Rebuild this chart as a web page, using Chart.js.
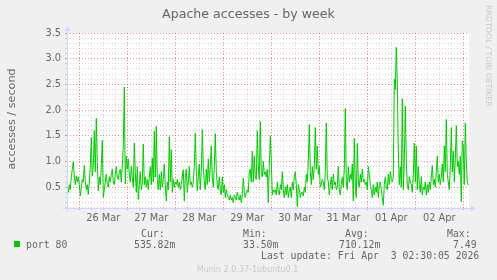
<!DOCTYPE html>
<html><head><meta charset="utf-8">
<script src="https://cdn.jsdelivr.net/npm/chart.js@4/dist/chart.umd.min.js"></script>
<style>html,body{margin:0;padding:0;background:#f0f0f0;overflow:hidden}canvas{display:block}</style>
</head><body>
<canvas id="c" width="497" height="280"></canvas>
<script>
const chartTitle = 'Apache accesses - by week';
const yAxisTitle = 'accesses / second';
const dayLabels = ['26 Mar','27 Mar','28 Mar','29 Mar','30 Mar','31 Mar','01 Apr','02 Apr'];
const yTickLabels = ['0.5','1.0','1.5','2.0','2.5','3.0','3.5'];
const seriesName = 'port 80';
const startHour = -6;      // hours relative to 26 Mar 00:00
const stepHours = 0.5;     // 30 minute samples
const accesses = [
0.52,0.4,0.55,0.45,0.7,0.85,1.0,0.7,0.55,0.72,0.6,0.7,0.55,0.33,0.5,0.65,0.6,0.92,0.6,0.45,
0.55,0.36,0.6,0.9,1.47,0.72,0.9,1.6,0.8,1.84,1.0,0.43,0.7,0.55,0.9,1.41,0.3,0.45,0.6,0.75,
0.55,0.5,0.7,0.6,0.75,0.85,0.6,0.55,0.75,0.9,0.7,0.65,0.8,0.85,0.6,0.9,1.3,2.45,0.56,1.1,
0.85,1.05,0.75,0.6,0.9,0.7,0.5,1.36,0.8,0.4,0.9,0.26,0.55,0.8,0.45,0.6,1.34,0.55,0.7,0.5,
0.65,0.45,0.7,0.9,0.55,1.07,0.6,1.59,0.7,1.68,0.65,0.45,0.75,0.45,0.8,0.5,0.65,0.95,0.55,0.23,
0.6,0.45,1.48,0.6,1.23,0.4,0.65,0.5,0.6,0.55,0.65,0.5,0.6,0.45,0.55,0.7,0.84,0.23,0.7,0.85,
0.4,0.6,0.9,0.55,0.6,0.5,0.6,0.9,1.55,0.8,0.43,0.7,0.95,0.45,0.8,1.62,0.9,0.6,0.45,0.85,
0.55,1.05,0.6,0.9,1.3,0.7,0.5,0.9,1.54,0.8,0.55,0.45,0.7,0.45,0.35,0.7,0.4,0.55,0.3,0.45,
0.35,0.3,0.25,0.35,0.25,0.3,0.2,0.35,0.3,0.25,0.4,0.3,0.25,0.35,0.2,0.35,0.68,0.4,0.3,0.4,
0.45,0.4,0.8,0.85,0.6,1.2,0.6,1.1,0.7,0.65,1.6,0.9,0.65,1.78,0.75,0.7,1.0,0.75,0.8,0.7,
0.85,0.2,0.9,1.5,1.0,0.35,0.45,0.4,0.45,0.35,0.6,0.4,0.35,0.55,0.45,0.8,0.45,0.3,0.5,0.35,
0.55,0.3,0.45,0.5,0.3,0.6,0.45,0.7,0.8,0.55,0.12,0.55,0.45,0.3,0.4,0.4,0.33,0.5,0.4,0.75,
0.6,1.0,1.72,0.8,0.55,0.9,0.65,0.9,1.66,0.85,1.3,0.75,0.9,0.5,0.55,0.65,0.6,0.45,0.8,1.75,
0.7,0.6,0.35,0.55,0.7,0.45,0.75,0.55,0.6,0.45,0.5,0.9,0.45,0.35,0.55,0.7,0.5,0.85,2.03,0.6,
0.45,0.9,0.6,0.75,0.65,0.95,0.23,1.45,0.5,0.3,1.35,0.6,0.5,0.75,0.6,0.85,0.6,0.65,0.55,0.6,
0.45,0.9,0.75,0.55,0.45,0.3,0.55,0.35,0.5,0.4,0.6,0.3,0.55,0.6,0.45,0.3,0.15,0.55,0.7,0.5,
0.45,0.75,0.55,0.8,0.65,0.6,0.7,2.6,2.4,3.22,2.5,1.2,0.55,0.9,0.5,2.22,0.45,1.0,2.08,1.0,
0.55,0.45,0.7,0.6,0.55,0.4,0.75,1.36,0.6,1.3,0.45,0.9,0.55,0.4,0.7,0.35,0.5,0.45,0.6,0.35,
0.55,0.4,0.6,0.45,0.7,0.92,0.55,0.65,0.5,0.8,1.1,0.6,0.75,0.55,0.7,0.95,0.6,1.3,0.8,1.82,
0.75,0.6,0.45,0.9,1.66,0.8,1.2,0.6,1.05,1.7,0.9,1.0,0.75,1.1,0.22,1.4,1.3,0.55,1.75,1.0,
0.6,0.54];
const statNames = ['Cur:','Min:','Avg:','Max:'];
const statValues = ['535.82m','33.50m','710.12m','7.49'];
const lastUpdate = 'Last update: Fri Apr  3 02:30:05 2026';
const footerText = 'Munin 2.0.37-1ubuntu0.1';
const watermark = 'RRDTOOL / TOBI OETIKER';

const X_MIN = -6.15, X_MAX = 194.85, Y_MIN = 0.095, Y_MAX = 3.5;
const GRID = 'rgba(143,143,143,0.35)', MGRID = 'rgba(230,70,70,0.6)';
const AXIS = '#CFD6F8', FONT = '#666666';
const SANS = '"DejaVu Sans"', MONO = '"DejaVu Sans Mono"';

const points = accesses.map((v, i) => ({x: startHour + i * stepHours, y: v}));

const munin = {
  id: 'munin',
  beforeDraw(chart) {
    const c = chart.ctx, a = chart.chartArea;
    c.save();
    c.fillStyle = '#F0F0F0'; c.fillRect(0, 0, chart.width, chart.height);
    c.fillStyle = '#FFFFFF'; c.fillRect(a.left, a.top, a.right - a.left, a.bottom - a.top);
    c.restore();
  },
  afterDraw(chart) {
    const c = chart.ctx, a = chart.chartArea;
    const x0 = a.left, y0 = a.bottom, x1 = a.right, yt = a.top;
    c.save();
    c.setLineDash([]);
    c.strokeStyle = AXIS; c.fillStyle = AXIS; c.lineWidth = 1;
    c.beginPath();
    c.moveTo(x0 - 4, y0 + 0.5); c.lineTo(x1 + 4, y0 + 0.5);
    c.moveTo(x0 + 0.5, y0 + 4); c.lineTo(x0 + 0.5, yt - 4);
    c.stroke();
    c.beginPath();
    c.moveTo(x1 + 2, y0 - 3 + 0.5); c.lineTo(x1 + 2, y0 + 3 + 0.5); c.lineTo(x1 + 7, y0 + 0.5); c.closePath(); c.fill();
    c.beginPath();
    c.moveTo(x0 - 3 + 0.5, yt - 2); c.lineTo(x0 + 3 + 0.5, yt - 2); c.lineTo(x0 + 0.5, yt - 7); c.closePath(); c.fill();

    c.fillStyle = FONT;
    c.textBaseline = 'alphabetic';
    c.font = '12.6px ' + SANS; c.textAlign = 'center';
    c.fillText(chartTitle, 248.5, 17.5);

    c.save();
    c.font = '11.2px ' + SANS;
    c.translate(15, 119); c.rotate(-Math.PI / 2);
    c.fillText(yAxisTitle, 0, 0);
    c.restore();

    c.save();
    c.fillStyle = '#c8c8c8';
    c.font = '7.9px ' + SANS; c.textAlign = 'left'; c.textBaseline = 'middle';
    c.translate(488.5, 5); c.rotate(Math.PI / 2);
    c.fillText(watermark, 0, 0);
    c.restore();

    c.font = '9.8px ' + MONO; c.textAlign = 'left'; c.textBaseline = 'alphabetic';
    const nameX = [141, 243, 345, 447], valX = [134, 243, 339, 453];
    statNames.forEach((s, i) => c.fillText(s, nameX[i], 236.5));
    c.fillStyle = '#00CC00'; c.fillRect(14, 241, 6, 6);
    c.fillStyle = FONT;
    c.fillText(seriesName, 26, 248);
    statValues.forEach((s, i) => c.fillText(s, valX[i], 248));
    c.fillText(lastUpdate, 261, 259);

    c.fillStyle = '#c8c8c8';
    c.font = '8px ' + SANS; c.textAlign = 'center';
    c.fillText(footerText, 247.5, 272);
    c.restore();
  }
};

new Chart(document.getElementById('c'), {
  type: 'line',
  data: { datasets: [{ label: seriesName, data: points, borderColor: '#00CC00', borderWidth: 1,
    pointRadius: 0, tension: 0, fill: false }] },
  options: {
    responsive: false, animation: false, devicePixelRatio: 1,
    layout: { padding: { left: 0, top: 33, right: 28, bottom: 52 } },
    plugins: { legend: { display: false }, tooltip: { enabled: false }, title: { display: false } },
    scales: {
      x: {
        type: 'linear', min: X_MIN, max: X_MAX,
        afterBuildTicks: s => { const t = []; for (let h = 0; h <= 192; h += 6) t.push({value: h}); s.ticks = t; },
        afterFit: s => { s.height = 20; },
        ticks: { autoSkip: false, maxRotation: 0, padding: 3, color: FONT,
          font: { family: 'DejaVu Sans', size: 9.8 },
          callback: v => (v % 24 === 12 ? dayLabels[(v - 12) / 24] : '') },
        grid: { color: ctx => (ctx.tick.value % 24 === 0 ? MGRID : GRID),
          drawTicks: true, tickLength: 2, tickColor: ctx => (ctx.tick.value % 24 === 0 ? MGRID : GRID) },
        border: { display: false, dash: [1, 2] }
      },
      y: {
        type: 'linear', min: Y_MIN, max: Y_MAX,
        afterBuildTicks: s => { const t = []; for (let k = 1; k <= 35; k++) t.push({value: k / 10}); s.ticks = t; },
        afterFit: s => { s.width = 67; },
        ticks: { autoSkip: false, padding: 4, color: FONT,
          font: { family: 'DejaVu Sans', size: 9.8 },
          callback: v => { const k = Math.round(v * 10); return k % 5 === 0 ? yTickLabels[k / 5 - 1] : ''; } },
        grid: { color: ctx => (Math.round(ctx.tick.value * 10) % 5 === 0 ? MGRID : GRID),
          drawTicks: true, tickLength: 2, tickColor: ctx => (Math.round(ctx.tick.value * 10) % 5 === 0 ? MGRID : GRID) },
        border: { display: false, dash: [1, 2] }
      }
    }
  },
  plugins: [munin]
});
</script>
</body></html>
